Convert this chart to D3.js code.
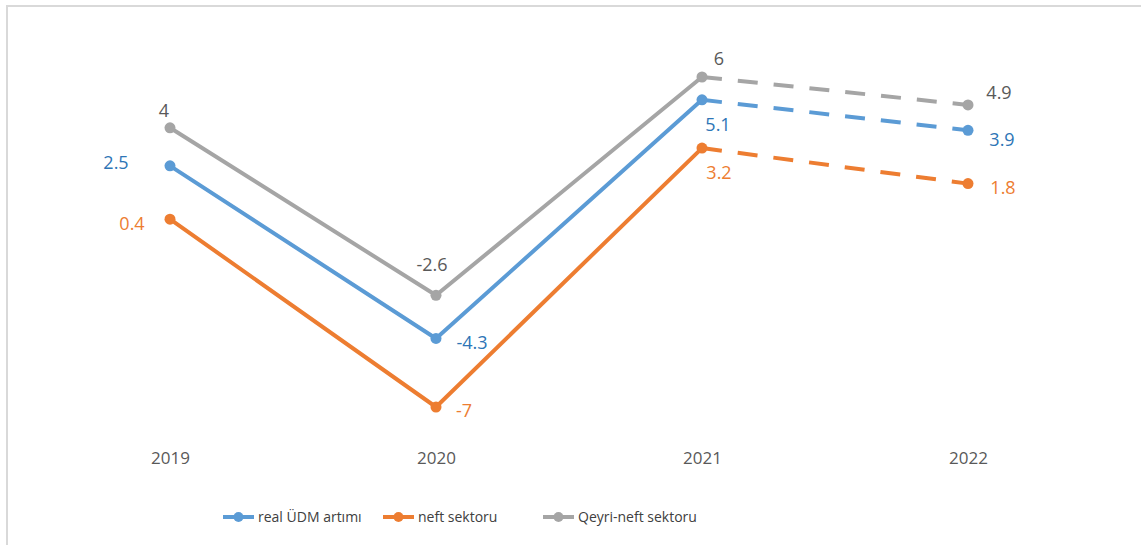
<!DOCTYPE html>
<html>
<head>
<meta charset="utf-8">
<script src="https://cdn.jsdelivr.net/npm/d3@7"></script>
<style>
  body { margin: 0; background: #fff; }
  svg { display: block; font-family: "Open Sans", "Noto Sans", sans-serif; }
</style>
</head>
<body>
<svg id="chart"></svg>
<script>
// --- Data ---
const years = ["2019", "2020", "2021", "2022"];
const seriesNames = ["real ÜDM artımı", "neft sektoru", "Qeyri-neft sektoru"];
const realGdp = [2.5, -4.3, 5.1, 3.9];
const oilSector = [0.4, -7, 3.2, 1.8];
const nonOilSector = [4, -2.6, 6, 4.9];

(function () {
  const W = 1141, H = 545;
  const svg = d3.select("#chart").attr("width", W).attr("height", H);

  // outer frame (chart area border, cut at right/bottom)
  svg.append("rect")
    .attr("x", 7).attr("y", 6).attr("width", 1200).attr("height", 600)
    .attr("fill", "none").attr("stroke", "#d9d9d9").attr("stroke-width", 2);

  const x = d3.scalePoint().domain(years).range([170, 968]);
  const y = d3.scaleLinear().domain([-7, 6]).range([407, 77]);

  // label offsets relative to each point: [dx, dy] (centered text)
  const series = [
    { name: seriesNames[0], values: realGdp, color: "#5b9bd5", text: "#2e75b6",
      pos: [[-54, -3], [36, 4], [16, 25], [34, 9]] },
    { name: seriesNames[1], values: oilSector, color: "#ed7d31", text: "#ed7d31",
      pos: [[-38, 4], [28, 4], [17, 24], [35, 4]] },
    { name: seriesNames[2], values: nonOilSector, color: "#a5a5a5", text: "#595959",
      pos: [[-6, -17], [-4, -31], [17, -18], [31, -12]] }
  ];

  const line = d3.line().x(d => x(d.year)).y(d => y(d.v));

  // x axis labels (no axis line)
  const xAxis = svg.append("g")
    .attr("transform", "translate(0,452)")
    .call(d3.axisBottom(x).tickSize(0).tickPadding(0));
  xAxis.select(".domain").remove();
  xAxis.selectAll("text")
    .attr("dy", "0.71em")
    .style("font-size", "17px")
    .style("font-family", "'Open Sans', sans-serif")
    .style("fill", "#595959");

  series.forEach(s => {
    const pts = s.values.map((v, i) => ({ year: years[i], v }));
    // solid actual part
    svg.append("path")
      .datum(pts.slice(0, 3))
      .attr("d", line)
      .attr("fill", "none")
      .attr("stroke", s.color)
      .attr("stroke-width", 4)
      .attr("stroke-linejoin", "round");
    // dashed forecast part
    svg.append("path")
      .datum(pts.slice(2))
      .attr("d", line)
      .attr("fill", "none")
      .attr("stroke", s.color)
      .attr("stroke-width", 4)
      .attr("stroke-dasharray", "20,16");

    svg.append("g").selectAll("circle")
      .data(pts)
      .join("circle")
      .attr("cx", d => x(d.year))
      .attr("cy", d => y(d.v))
      .attr("r", 5.5)
      .attr("fill", s.color);

    svg.append("g").selectAll("text")
      .data(pts)
      .join("text")
      .attr("x", (d, i) => x(d.year) + s.pos[i][0])
      .attr("y", (d, i) => y(d.v) + s.pos[i][1])
      .attr("dy", "0.36em")
      .attr("text-anchor", "middle")
      .style("font-size", "18px")
      .style("fill", s.text)
      .text(d => d.v);
  });

  // legend
  const legendX = [223, 383, 543];
  const legend = svg.append("g").attr("transform", "translate(0,517)");
  series.forEach((s, i) => {
    const g = legend.append("g").attr("transform", `translate(${legendX[i]},0)`);
    g.append("line").attr("x1", 0).attr("x2", 31).attr("y1", 0).attr("y2", 0)
      .attr("stroke", s.color).attr("stroke-width", 4);
    g.append("circle").attr("cx", 15.5).attr("cy", 0).attr("r", 5).attr("fill", s.color);
    g.append("text").attr("x", 35).attr("y", 0).attr("dy", "0.35em")
      .style("font-size", "14px").style("fill", "#404040")
      .text(s.name);
  });
})();
</script>
</body>
</html>
